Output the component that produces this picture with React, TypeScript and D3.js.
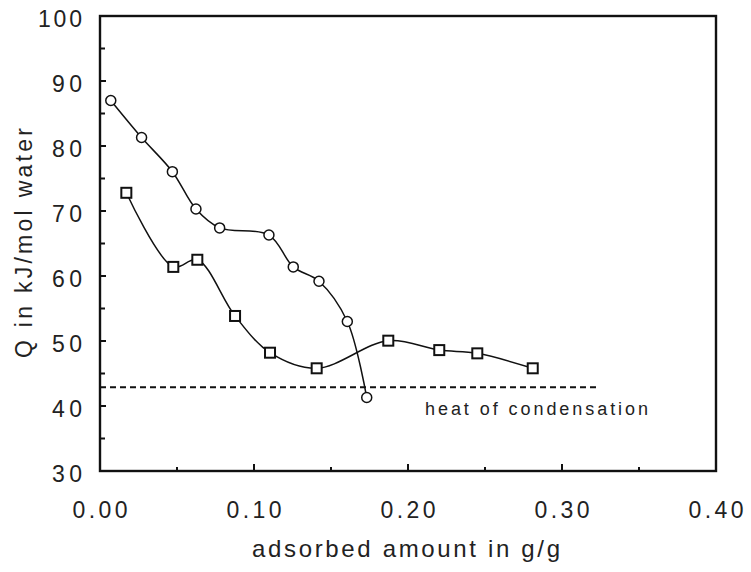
import React from "react";
import * as d3 from "d3";

const circleX = [0.007, 0.027, 0.047, 0.0623, 0.0777, 0.1097, 0.1255, 0.1422, 0.1606, 0.1732];
const circleY = [87.0, 81.3, 76.05, 70.3, 67.4, 66.3, 61.4, 59.2, 53.0, 41.3];
const squareX = [0.0171, 0.0476, 0.0632, 0.0877, 0.1104, 0.1407, 0.1872, 0.2203, 0.245, 0.281];
const squareY = [72.8, 61.4, 62.5, 53.85, 48.2, 45.8, 50.05, 48.6, 48.1, 45.8];
const condensationQ = 42.9;
const condensationXEnd = 0.3225;
const xTicks = [0.0, 0.1, 0.2, 0.3, 0.4];
const xMinorTicks = [0.05, 0.15, 0.25, 0.35];
const yTicks = [30, 40, 50, 60, 70, 80, 90, 100];
const yMinorTicks = [35, 45, 55, 65, 75, 85, 95];

const W = 751;
const H = 572;

export default function App() {
  const x = d3.scaleLinear().domain([0, 0.4]).range([100, 716]);
  const y = d3.scaleLinear().domain([30, 100]).range([471, 16]);
  const line = d3
    .line<[number, number]>()
    .x((d) => x(d[0]))
    .y((d) => y(d[1]))
    .curve(d3.curveCatmullRom.alpha(0.5));
  const circ: [number, number][] = circleX.map((v, i) => [v, circleY[i]]);
  const sq: [number, number][] = squareX.map((v, i) => [v, squareY[i]]);
  const font = "Liberation Sans, Arial, Helvetica, sans-serif";
  const [x0, x1] = x.range();
  const [yb, yt] = y.range();
  return (
    <svg
      width={W}
      height={H}
      style={{ position: "absolute", left: 0, top: 0, background: "#fff" }}
      fontFamily={font}
    >
      <rect x={0} y={0} width={W} height={H} fill="#fff" />
      {/* dashed condensation line */}
      <line
        x1={x(0)}
        x2={x(condensationXEnd)}
        y1={y(condensationQ)}
        y2={y(condensationQ)}
        stroke="#111"
        strokeWidth={2}
        strokeDasharray="6,4"
      />
      <text x={425} y={415} fontSize={18} textLength={223} lengthAdjust="spacing" fill="#222">
        heat of condensation
      </text>
      {/* curves */}
      <path d={line(circ) || ""} fill="none" stroke="#111" strokeWidth={1.5} />
      <path d={line(sq) || ""} fill="none" stroke="#111" strokeWidth={1.5} />
      {circ.map((d, i) => (
        <circle key={"c" + i} cx={x(d[0])} cy={y(d[1])} r={5} fill="#fff" stroke="#111" strokeWidth={1.5} />
      ))}
      {sq.map((d, i) => (
        <rect
          key={"s" + i}
          x={x(d[0]) - 5}
          y={y(d[1]) - 5}
          width={10}
          height={10}
          fill="#fff"
          stroke="#111"
          strokeWidth={2}
        />
      ))}
      {/* frame */}
      <rect x={x0} y={yt} width={x1 - x0} height={yb - yt} fill="none" stroke="#111" strokeWidth={2.4} />
      {/* y ticks */}
      {yTicks.map((t) => (
        <g key={"yt" + t}>
          <line x1={x0} x2={x0 + 6} y1={y(t)} y2={y(t)} stroke="#111" strokeWidth={2} />
          <text
            x={82}
            y={y(t) + 11}
            fontSize={23}
            textAnchor="end"
            fill="#222"
            textLength={t === 100 ? 44 : 30}
            lengthAdjust="spacing"
          >
            {String(t)}
          </text>
        </g>
      ))}
      {yMinorTicks.map((t) => (
        <line key={"ym" + t} x1={x0} x2={x0 + 5} y1={y(t)} y2={y(t)} stroke="#111" strokeWidth={2} />
      ))}
      {/* x ticks */}
      {xTicks.map((t) => (
        <g key={"xt" + t}>
          {t > 0 && t < 0.4 ? (
            <line x1={x(t)} x2={x(t)} y1={yb} y2={yb - 7} stroke="#111" strokeWidth={2} />
          ) : null}
          <text
            x={x(t)}
            y={518}
            fontSize={23}
            textAnchor="middle"
            fill="#222"
            textLength={55}
            lengthAdjust="spacing"
          >
            {t.toFixed(2)}
          </text>
        </g>
      ))}
      {xMinorTicks.map((t) => (
        <line key={"xm" + t} x1={x(t)} x2={x(t)} y1={yb} y2={yb - 4} stroke="#111" strokeWidth={2} />
      ))}
      {/* axis titles */}
      <text x={252} y={557} fontSize={24} fill="#222" textLength={308} lengthAdjust="spacing">
        adsorbed amount in g/g
      </text>
      <text
        transform="translate(32,243) rotate(-90)"
        fontSize={23}
        textAnchor="middle"
        fill="#222"
        textLength={230}
        lengthAdjust="spacing"
      >
        Q in kJ/mol water
      </text>
    </svg>
  );
}
